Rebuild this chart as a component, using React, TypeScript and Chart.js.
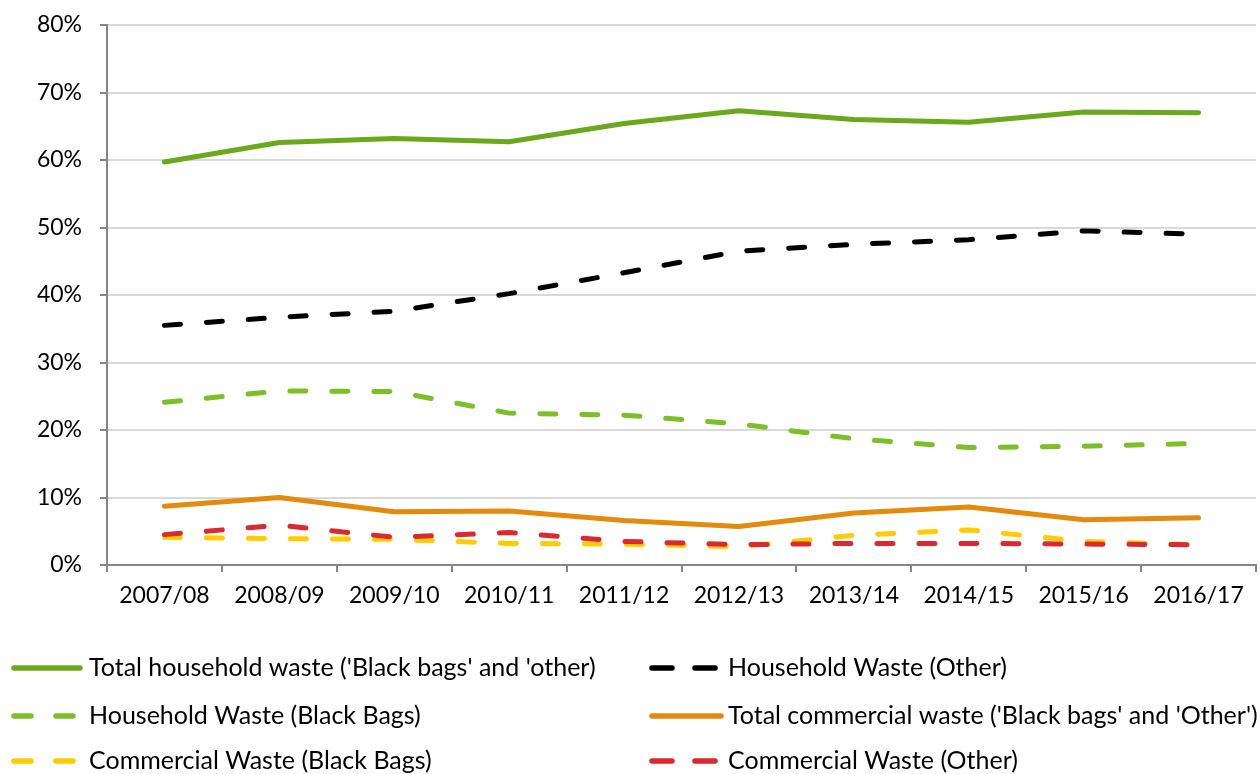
import React, { useEffect, useRef } from "react";
import { Chart, registerables } from "chart.js";

Chart.register(...registerables);

const categories = ["2007/08", "2008/09", "2009/10", "2010/11", "2011/12", "2012/13", "2013/14", "2014/15", "2015/16", "2016/17"];

const totalHousehold = [59.7, 62.6, 63.2, 62.7, 65.4, 67.3, 66.0, 65.6, 67.1, 67.0];
const householdOther = [35.5, 36.7, 37.6, 40.2, 43.3, 46.5, 47.5, 48.2, 49.5, 49.0];
const householdBlackBags = [24.1, 25.8, 25.7, 22.5, 22.2, 20.9, 18.7, 17.4, 17.6, 18.0];
const totalCommercial = [8.7, 10.0, 7.9, 8.0, 6.6, 5.7, 7.7, 8.6, 6.7, 7.0];
const commercialBlackBags = [4.1, 3.9, 3.8, 3.2, 3.1, 2.7, 4.4, 5.2, 3.5, 3.0];
const commercialOther = [4.5, 5.9, 4.1, 4.8, 3.5, 3.0, 3.2, 3.2, 3.1, 3.0];

const yTicks = [0, 10, 20, 30, 40, 50, 60, 70, 80];

const FONT = "Lato, 'Noto Sans', sans-serif";
const DASH = [16, 26];

const legendPlugin = {
  id: "customLegend",
  afterDraw(chart: any) {
    const ctx = chart.ctx as CanvasRenderingContext2D;
    const ds = chart.data.datasets;
    const cols = [
      { x0: 14, x1: 80, d1: 31, d2: 56, text: 89 },
      { x0: 652, x1: 721, d1: 672, d2: 695, text: 728 },
    ];
    const rows = [668, 716, 761];
    ds.forEach((d: any, i: number) => {
      const c = cols[i % 2];
      const y = rows[Math.floor(i / 2)];
      ctx.save();
      ctx.strokeStyle = d.borderColor;
      ctx.lineWidth = 5.5;
      ctx.lineCap = "round";
      ctx.beginPath();
      if (d.borderDash && d.borderDash.length) {
        ctx.moveTo(c.x0, y);
        ctx.lineTo(c.d1, y);
        ctx.moveTo(c.d2, y);
        ctx.lineTo(c.d2 + (c.d1 - c.x0), y);
      } else {
        ctx.moveTo(c.x0, y);
        ctx.lineTo(c.x1, y);
      }
      ctx.stroke();
      ctx.fillStyle = "#000";
      ctx.font = `25px ${FONT}`;
      ctx.textBaseline = "middle";
      ctx.textAlign = "left";
      ctx.fillText(d.label, c.text, y);
      ctx.restore();
    });
  },
};

export default function App() {
  const ref = useRef<HTMLCanvasElement>(null);
  useEffect(() => {
    document.body.style.margin = "0";
    const line = (label: string, data: number[], color: string, dashed: boolean, order: number) => ({
      label,
      data,
      borderColor: color,
      backgroundColor: color,
      borderWidth: 5,
      borderDash: dashed ? DASH : [],
      borderCapStyle: "round" as const,
      borderJoinStyle: "round" as const,
      pointRadius: 0,
      tension: 0,
      fill: false,
      order,
    });
    const chart = new Chart(ref.current!, {
      type: "line",
      data: {
        labels: categories,
        datasets: [
          line("Total household waste ('Black bags' and 'other)", totalHousehold, "#6aa81c", false, 3),
          line("Household Waste (Other)", householdOther, "#000000", true, 3),
          line("Household Waste (Black Bags)", householdBlackBags, "#7dbf26", true, 3),
          line("Total commercial waste ('Black bags' and 'Other')", totalCommercial, "#e48a0c", false, 3),
          line("Commercial Waste (Black Bags)", commercialBlackBags, "#ffcc00", true, 2),
          line("Commercial Waste (Other)", commercialOther, "#dc2830", true, 1),
        ],
      },
      options: {
        responsive: false,
        animation: false,
        layout: { padding: { top: 25, right: 4, bottom: 150, left: 0 } },
        plugins: { legend: { display: false }, tooltip: { enabled: false } },
        scales: {
          x: {
            type: "category",
            offset: true,
            grid: {
              display: true,
              drawOnChartArea: false,
              drawTicks: true,
              tickLength: 7,
              tickColor: "#868686",
              lineWidth: 2,
              offset: true,
            },
            border: { display: true, color: "#868686", width: 2 },
            ticks: { color: "#000", font: { family: FONT, size: 23 }, padding: 10, maxRotation: 0, autoSkip: false },
            afterFit: (s: any) => { s.height = 774 - 150 - 565; },
          },
          y: {
            min: 0,
            max: 80,
            afterBuildTicks: (s: any) => { s.ticks = yTicks.map((v) => ({ value: v })); },
            grid: {
              color: "#d9d9d9",
              lineWidth: 2,
              drawTicks: true,
              tickLength: 7,
              tickColor: "#868686",
            },
            border: { display: true, color: "#868686", width: 2 },
            ticks: {
              color: "#000",
              font: { family: FONT, size: 23 },
              padding: 18,
              callback: (v: any) => `${v}%`,
            },
            afterFit: (s: any) => { s.width = 107; s.paddingTop = 0; s.paddingBottom = 0; },
          },
        },
      },
      plugins: [legendPlugin],
    });
    return () => chart.destroy();
  }, []);
  return <canvas ref={ref} width={1260} height={774} style={{ display: "block" }} />;
}
